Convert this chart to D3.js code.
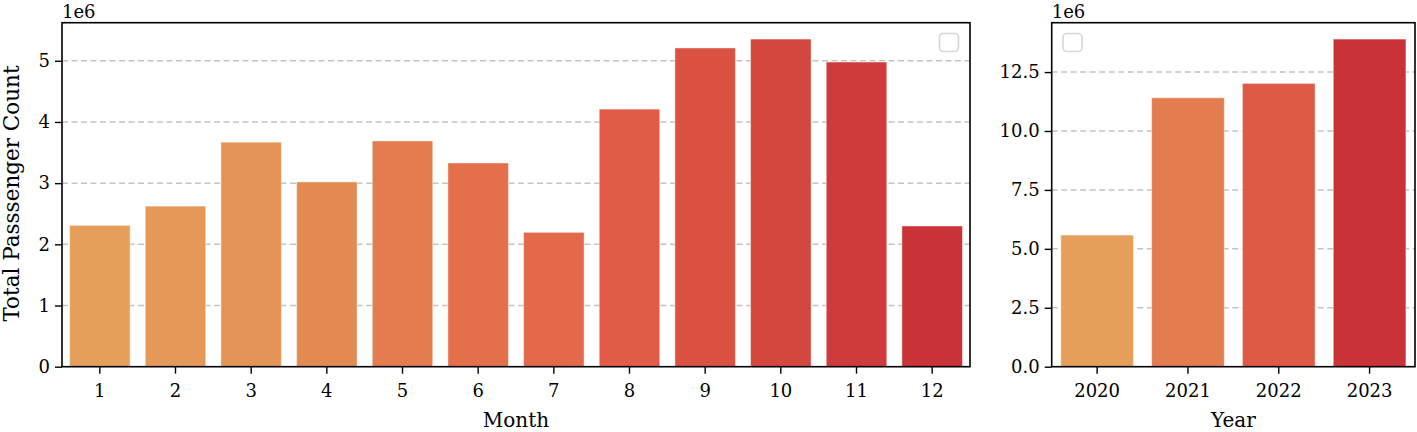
<!DOCTYPE html>
<html><head><meta charset="utf-8">
<script src="https://cdn.jsdelivr.net/npm/d3@7"></script>
<style>body{margin:0;background:#fff}svg{display:block}text{font-family:"DejaVu Serif",serif;fill:#000}</style>
</head><body><svg id="c" width="1417" height="432"></svg>
<script>
const months = ["1","2","3","4","5","6","7","8","9","10","11","12"];
const monthValues = [2.31e6,2.625e6,3.67e6,3.02e6,3.69e6,3.33e6,2.196e6,4.21e6,5.21e6,5.355e6,4.98e6,2.30e6];
const years = ["2020","2021","2022","2023"];
const yearValues = [5.585e6,11.41e6,12.02e6,13.90e6];
const monthTicks = [0,1e6,2e6,3e6,4e6,5e6];
const yearTicks = [0,2.5e6,5e6,7.5e6,10e6,12.5e6];
const monthColors = ["#E69F5B","#E59958","#E49456","#E38A52","#E37D4F","#E36F4B","#E3694A","#E05C46","#DA5142","#D4473E","#CF3B3A","#C93236"];
const yearColors = ["#E69F5B","#E37D4F","#DE5A45","#C93236"];

const svg = d3.select("#c");

function panel(o){
  const g = svg.append("g");
  const x = d3.scaleBand().domain(o.cats).range([o.x0,o.x1]).paddingInner(0.2).paddingOuter(0.1);
  const y = d3.scaleLinear().domain([0, d3.max(o.vals)*1.05]).range([o.y0,o.y1]);
  g.append("g").selectAll("line").data(o.ticks.filter(t=>t>0)).join("line")
    .attr("x1",o.x0).attr("x2",o.x1).attr("y1",d=>y(d)).attr("y2",d=>y(d))
    .attr("stroke","#c4c4c4").attr("stroke-width",1.5).attr("stroke-dasharray","6,3.5");
  g.append("g").selectAll("rect").data(o.vals).join("rect")
    .attr("x",(d,i)=>x(o.cats[i])).attr("width",x.bandwidth())
    .attr("y",d=>y(d)).attr("height",d=>y(0)-y(d))
    .attr("fill",(d,i)=>o.colors[i])
    .attr("stroke","#fff").attr("stroke-opacity",0.45).attr("stroke-width",1);
  const ya = g.append("g").attr("transform",`translate(${o.x0},0)`)
    .call(d3.axisLeft(y).tickValues(o.ticks).tickFormat(o.fmt).tickSize(7).tickPadding(5));
  const xa = g.append("g").attr("transform",`translate(0,${o.y0})`)
    .call(d3.axisBottom(x).tickSize(7).tickPadding(6));
  [ya,xa].forEach(a=>{a.select(".domain").remove();a.selectAll("line").attr("stroke","#000").attr("stroke-width",1.4);
    a.selectAll("text").attr("font-size",18).attr("font-family","DejaVu Serif");});
  xa.selectAll("text").attr("dy","0.95em");
  g.append("rect").attr("x",o.x0).attr("y",o.y1).attr("width",o.x1-o.x0).attr("height",o.y0-o.y1)
    .attr("fill","none").attr("stroke","#000").attr("stroke-width",1.6);
  g.append("text").attr("x",o.x0).attr("y",o.y1-5).attr("font-size",18).text("1e6");
  g.append("text").attr("x",(o.x0+o.x1)/2).attr("y",427).attr("text-anchor","middle").attr("font-size",20).text(o.xlabel);
  g.append("rect").attr("x",o.legX).attr("y",33.5).attr("width",19).attr("height",18).attr("rx",4)
    .attr("fill","#fff").attr("stroke","#d6d6d6").attr("stroke-width",1.6);
  return g;
}

panel({cats:months, vals:monthValues, colors:monthColors, ticks:monthTicks, fmt:d=>d3.format("d")(d/1e6),
  x0:62, x1:970, y0:366.7, y1:22.7, xlabel:"Month", legX:939.5});
panel({cats:years, vals:yearValues, colors:yearColors, ticks:yearTicks, fmt:d=>d3.format(".1f")(d/1e6),
  x0:1051.7, x1:1415, y0:366.7, y1:22.7, xlabel:"Year", legX:1063});

svg.append("text").attr("transform","translate(19,193.5) rotate(-90)").attr("text-anchor","middle")
  .attr("font-size",21.5).text("Total Passsenger Count");
</script></body></html>
